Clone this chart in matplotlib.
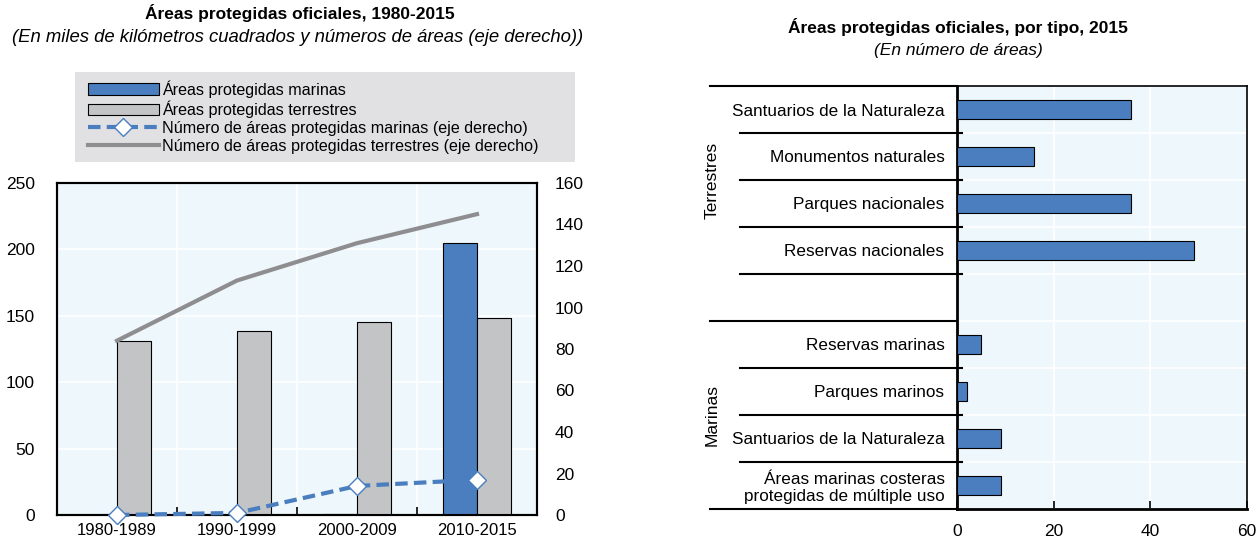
import matplotlib
matplotlib.use('Agg')
import matplotlib.pyplot as plt
import matplotlib.transforms as mtransforms
from matplotlib.patches import Rectangle, Patch
from matplotlib.lines import Line2D
import numpy as np

plt.rcParams['font.family'] = ['Liberation Sans', 'DejaVu Sans']
plt.rcParams['font.size'] = 12

BLUE = '#4A7EBF'
GREY_BAR = '#C3C4C6'
GREY_LINE = '#8E8E90'
PANEL = '#EEF7FB'

# left panel: areas (thousand km2) and counts (right axis)
periods = ['1980-1989', '1990-1999', '2000-2009', '2010-2015']
area_marine = [0, 0, 0.6, 204.5]
area_land = [131, 138.5, 145.5, 148.5]
count_marine = [0, 1, 14, 17]
count_land = [84, 113, 131, 145]

# right panel: number of areas by type, 2015
land_types = ['Santuarios de la Naturaleza', 'Monumentos naturales',
              'Parques nacionales', 'Reservas nacionales']
land_counts = [36, 16, 36, 49]
marine_types = ['Reservas marinas', 'Parques marinos', 'Santuarios de la Naturaleza',
                'Áreas marinas costeras\nprotegidas de múltiple uso']
marine_counts = [5, 2, 9, 9]

W, H = 1257, 539
fig = plt.figure(figsize=(W / 100, H / 100), dpi=100)


def px_axes(x0, y0, x1, y1):
    return fig.add_axes([x0 / W, 1 - y1 / H, (x1 - x0) / W, (y1 - y0) / H])


# ---------------- left panel ----------------
fig.text(300 / W, 1 - 13 / H, 'Áreas protegidas oficiales, 1980-2015',
         ha='center', va='center', fontweight='bold', fontsize=12.5)
fig.text(298 / W, 1 - 37 / H,
         '(En miles de kilómetros cuadrados y números de áreas (eje derecho))',
         ha='center', va='center', style='italic', fontsize=13.3)

fig.patches.append(Rectangle((75 / W, 1 - 162 / H), 500 / W, 90 / H,
                             transform=fig.transFigure, facecolor='#E1E1E3',
                             edgecolor='none', zorder=0))

ax = px_axes(57, 183, 537, 515)
ax.set_facecolor(PANEL)
x = np.arange(len(periods))
bw = 0.285
ax.bar(x - bw / 2, area_marine, bw, color=BLUE, edgecolor='black', linewidth=0.8, zorder=3)
ax.bar(x + bw / 2, area_land, bw, color=GREY_BAR, edgecolor='black', linewidth=0.8, zorder=3)
ax.set_xlim(-0.5, 3.5)
ax.set_ylim(0, 250)
ax.set_yticks(range(0, 251, 50))
ax.set_xticks(x)
ax.set_xticklabels(periods)
ax.set_xticks(np.arange(0.5, 3, 1), minor=True)
ax.tick_params(axis='x', which='major', length=0, pad=6)
ax.tick_params(axis='x', which='minor', length=6, direction='in', width=1.2)
ax.tick_params(axis='y', length=0, pad=16, labelsize=12.5)
ax.grid(True, axis='y', color='white', linewidth=1.2, zorder=0)
ax.grid(True, axis='x', which='minor', color='white', linewidth=1.2, zorder=0)
for s in ax.spines.values():
    s.set_linewidth(1.5)

ax2 = ax.twinx()
ax2.set_ylim(0, 160)
ax2.set_yticks(range(0, 161, 20))
ax2.tick_params(axis='y', length=0, pad=13, labelsize=12.5)
ax2.plot(x, count_land, color=GREY_LINE, linewidth=3, zorder=4)
ax2.plot(x, count_marine, color=BLUE, linewidth=3, linestyle=(0, (3, 1.5)),
         marker='D', markersize=9, markerfacecolor='white', markeredgecolor=BLUE,
         markeredgewidth=1, zorder=5, clip_on=False)
for s in ax2.spines.values():
    s.set_linewidth(1.5)

handles = [
    Patch(facecolor=BLUE, edgecolor='black', linewidth=0.8),
    Patch(facecolor=GREY_BAR, edgecolor='black', linewidth=0.8),
    Line2D([], [], color=BLUE, linewidth=3, linestyle=(0, (3, 1.5)), marker='D',
           markersize=9, markerfacecolor='white', markeredgecolor=BLUE, markeredgewidth=1),
    Line2D([], [], color=GREY_LINE, linewidth=3),
]
labels = ['Áreas protegidas marinas', 'Áreas protegidas terrestres',
          'Número de áreas protegidas marinas (eje derecho)',
          'Número de áreas protegidas terrestres (eje derecho)']
fig.legend(handles, labels, loc='upper left', bbox_to_anchor=(88 / W, 1 - 80 / H),
           frameon=False, handlelength=4.4, handleheight=0.7, handletextpad=0.2,
           labelspacing=0.18, borderpad=0, borderaxespad=0, fontsize=11.6)

# ---------------- right panel ----------------
fig.text(958 / W, 1 - 27 / H, 'Áreas protegidas oficiales, por tipo, 2015',
         ha='center', va='center', fontweight='bold', fontsize=12.5)
fig.text(958 / W, 1 - 51 / H, '(En número de áreas)',
         ha='center', va='center', style='italic', fontsize=12.5)

axr = px_axes(957, 86, 1247, 509)
axr.set_facecolor(PANEL)
names = land_types + [''] + marine_types
rows = np.arange(len(names))
axr.barh(rows[:4], land_counts, 0.42, color=BLUE, edgecolor='black', linewidth=0.8, zorder=3)
axr.barh(rows[5:], marine_counts, 0.42, color=BLUE, edgecolor='black', linewidth=0.8, zorder=3)
axr.set_ylim(8.5, -0.5)
axr.set_xlim(0, 60)
axr.set_yticks(rows)
axr.set_yticklabels(names, ha='right')
axr.tick_params(axis='y', length=0, pad=9, labelsize=12.3)
axr.set_xticks(range(0, 61, 20))
axr.tick_params(axis='x', direction='in', length=6, width=1.2, pad=11, labelsize=12.5)
axr.set_yticks(np.arange(-0.5, 9, 1), minor=True)
axr.tick_params(axis='y', which='minor', length=0)
axr.grid(True, axis='x', color='white', linewidth=1.2, zorder=0)
axr.grid(True, axis='y', which='minor', color='white', linewidth=1.2, zorder=0)
for s in axr.spines.values():
    s.set_linewidth(1.2)
axr.spines['left'].set_linewidth(2)
axr.spines['bottom'].set_linewidth(2)

# row separators to the left of the panel
trans = mtransforms.blended_transform_factory(axr.transAxes, axr.transData)
x_outer = (710 - 957) / 290
x_inner = (740 - 957) / 290
x_end = 5 / 290
for yb in [-0.5, 4.5, 8.5]:
    axr.plot([x_outer, 0], [yb, yb], color='black', linewidth=1.5,
             transform=trans, clip_on=False)
for yb in [0.5, 1.5, 2.5, 3.5, 5.5, 6.5, 7.5]:
    axr.plot([x_inner, x_end], [yb, yb], color='black', linewidth=1.5,
             transform=trans, clip_on=False)

axr.text((712 - 957) / 290, 1.5, 'Terrestres', rotation=90, ha='center', va='center',
         transform=trans, fontsize=12.5)
axr.text((712 - 957) / 290, 6.5, 'Marinas', rotation=90, ha='center', va='center',
         transform=trans, fontsize=12.5)

fig.savefig('out.png', dpi=100)
